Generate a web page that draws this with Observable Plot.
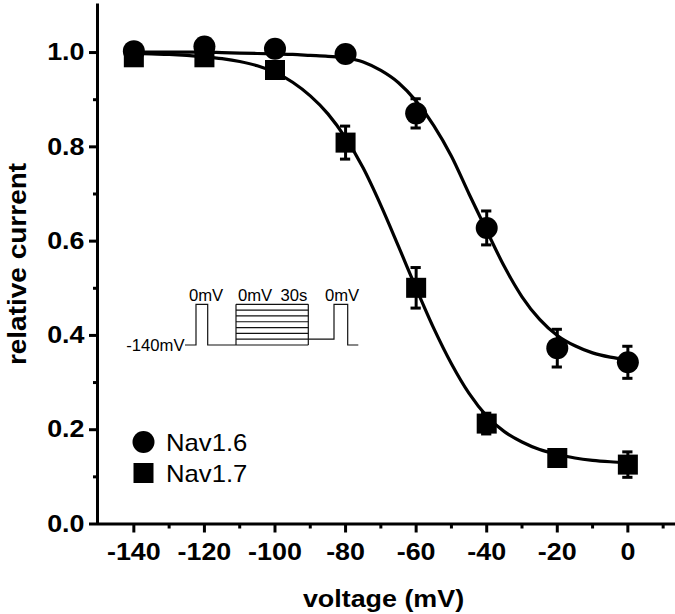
<!DOCTYPE html>
<html><head><meta charset="utf-8">
<script src="https://cdn.jsdelivr.net/npm/d3@7"></script>
<script src="https://cdn.jsdelivr.net/npm/@observablehq/plot@0.6"></script>
<style>
body{margin:0;background:#fff;}
#chart{position:relative;width:675px;height:614px;}
</style></head><body><div id="chart"></div>
<script>
// ---- data ----
const seriesNames = ["Nav1.6", "Nav1.7"];
const voltages = [-140, -120, -100, -80, -60, -40, -20, 0];
const nav16Mean = [1.003, 1.013, 1.008, 0.997, 0.871, 0.628, 0.373, 0.343];
const nav16Err  = [0.004, 0.005, 0.005, 0.006, 0.031, 0.036, 0.040, 0.034];
const nav17Mean = [0.990, 0.990, 0.963, 0.809, 0.501, 0.213, 0.140, 0.126];
const nav17Err  = [0.004, 0.005, 0.008, 0.035, 0.043, 0.022, 0.010, 0.027];
const fitVoltages = [-140,-135,-130,-125,-120,-115,-110,-105,-100,-95,-90,-85,-80,-75,-70,-65,-60,-55,-50,-45,-40,-35,-30,-25,-20,-15,-10,-5,0];
const nav16Fit = [1.001,1.001,1.001,1.001,1.001,1.000,0.999,0.998,0.997,0.996,0.994,0.992,0.989,0.980,0.962,0.936,0.897,0.845,0.780,0.700,0.622,0.546,0.482,0.434,0.400,0.378,0.363,0.354,0.348];
const nav17Fit = [0.998,0.997,0.996,0.994,0.991,0.987,0.981,0.972,0.958,0.937,0.908,0.870,0.819,0.755,0.676,0.589,0.500,0.415,0.340,0.277,0.229,0.196,0.174,0.158,0.148,0.140,0.135,0.132,0.130];
const xTicks = [-140, -120, -100, -80, -60, -40, -20, 0];
const xMinorTicks = [-130, -110, -90, -70, -50, -30, -10, 10];
const yTicks = [0, 0.2, 0.4, 0.6, 0.8, 1.0];
const yMinorTicks = [0.1, 0.3, 0.5, 0.7, 0.9];
const xDomain = [-150.3, 13.5];
const yDomain = [0, 1.103];
const xLabel = "voltage (mV)";
const yLabel = "relative current";
// inset protocol schematic
const protoLevels = [0, -20, -40, -60, -80, -100, -120, -140];
const protoTrace1 = [[0,-140],[11,-140],[11,0],[22.7,0],[22.7,-140],[51,-140]];
const protoBox = [51, 123.3];
const protoTrace2 = [[123.3,-120],[149,-120],[149,0],[162.7,0],[162.7,-140],[173.3,-140]];
const protoLabels = ["-140mV", "0mV", "0mV", "30s", "0mV"];

// ---- tables ----
const pts16 = voltages.map((v, i) => ({v, m: nav16Mean[i], e: nav16Err[i]}));
const pts17 = voltages.map((v, i) => ({v, m: nav17Mean[i], e: nav17Err[i]}));
const fit16 = fitVoltages.map((v, i) => ({v, r: nav16Fit[i]}));
const fit17 = fitVoltages.map((v, i) => ({v, r: nav17Fit[i]}));
const allPts = [...pts16, ...pts17];
const caps = allPts.flatMap(d => [{v: d.v, y: d.m + d.e}, {v: d.v, y: d.m - d.e}]);

const FONT = "'Liberation Sans', Arial, Helvetica, sans-serif";
const chart = Plot.plot({
  width: 675, height: 614,
  marginLeft: 97, marginRight: 0, marginTop: 3.5, marginBottom: 90.5,
  x: {domain: xDomain, label: null},
  y: {domain: yDomain, label: null},
  style: {fontFamily: FONT, background: "white", color: "black", overflow: "visible"},
  marks: [
    Plot.line(fit16, {x: "v", y: "r", curve: "monotone-x", stroke: "black", strokeWidth: 3.2}),
    Plot.line(fit17, {x: "v", y: "r", curve: "monotone-x", stroke: "black", strokeWidth: 3.2}),
    Plot.ruleX(allPts, {x: "v", y1: d => d.m - d.e, y2: d => d.m + d.e, stroke: "black", strokeWidth: 3}),
    Plot.ruleY(caps, {y: "y", x1: d => d.v - 1.45, x2: d => d.v + 1.45, stroke: "black", strokeWidth: 3}),
    Plot.dot(pts17, {x: "v", y: "m", symbol: "square", r: 11.3, fill: "black", stroke: null}),
    Plot.dot(pts16, {x: "v", y: "m", symbol: "circle", r: 11, fill: "black", stroke: null}),
    Plot.ruleY([yDomain[0]], {stroke: "black", strokeWidth: 3}),
    Plot.ruleX([xDomain[0]], {stroke: "black", strokeWidth: 3}),
    Plot.axisX(xTicks, {tickSize: 9, tickPadding: 10, strokeWidth: 3, fontSize: 24, fontWeight: "bold", tickFormat: d => String(d), label: null}),
    Plot.axisX(xMinorTicks, {tickSize: 5, strokeWidth: 3, tickFormat: () => "", label: null}),
    Plot.axisY(yTicks, {tickSize: 8, tickPadding: 5, strokeWidth: 3, fontSize: 24, fontWeight: "bold", tickFormat: d => d.toFixed(1), label: null}),
    Plot.axisY(yMinorTicks, {tickSize: 4, strokeWidth: 3, tickFormat: () => "", label: null}),
    Plot.text([xLabel], {frameAnchor: "bottom", dy: 83, dx: -3, lineAnchor: "bottom", textAnchor: "middle", fontSize: 24, fontWeight: "bold"}),
    Plot.text([yLabel], {frameAnchor: "left", dx: -72, rotate: -90, lineAnchor: "bottom", textAnchor: "middle", fontSize: 25, fontWeight: "bold"})
  ]
});
document.getElementById("chart").appendChild(chart);

const svg = d3.select(chart);
svg.selectAll('g[aria-label$="tick label"]').attr("font-size", 24).attr("font-weight", "bold");

// widen glyphs horizontally (reference lettering is wider than Arial)
function widen(sel, k) {
  sel.each(function () {
    const t = d3.select(this);
    const xs = t.attr("x");
    const tr = t.attr("transform") || "";
    let pre = "";
    if (xs != null && !isNaN(+xs)) { pre = ` translate(${+xs},0)`; t.attr("x", null); }
    t.attr("transform", `${tr}${pre} scale(${k},1)`);
  });
}
widen(svg.selectAll("text"), 1.12);

// ---- legend (inside plot area) ----
const leg = svg.append("g").attr("font-family", FONT).attr("font-size", 24).attr("text-anchor", "start");
const legRows = [{name: seriesNames[0], sym: d3.symbolCircle, cy: 442, size: Math.PI * 11 * 11},
                 {name: seriesNames[1], sym: d3.symbolSquare, cy: 473, size: 400}];
legRows.forEach(row => {
  leg.append("path").attr("d", d3.symbol(row.sym, row.size)()).attr("transform", `translate(143.5,${row.cy})`).attr("fill", "black");
  leg.append("text").attr("x", 166).attr("y", row.cy).attr("dy", "0.36em").text(row.name);
});
widen(leg.selectAll("text"), 1.07);

// ---- inset stimulation protocol ----
const tx = d3.scaleLinear().domain([0, 100]).range([185, 285]);
const ly = d3.scaleLinear().domain([-140, 0]).range([345, 304.3]);
const ins = svg.append("g").attr("fill", "none").attr("stroke", "#111").attr("stroke-width", 1.2);
const lineGen = d3.line().x(d => tx(d[0])).y(d => ly(d[1]));
ins.append("path").attr("d", lineGen(protoTrace1));
ins.append("path").attr("d", lineGen(protoTrace2));
protoLevels.forEach(l => ins.append("line").attr("x1", tx(protoBox[0])).attr("x2", tx(protoBox[1])).attr("y1", ly(l)).attr("y2", ly(l)));
ins.append("line").attr("x1", tx(protoBox[0])).attr("x2", tx(protoBox[0])).attr("y1", ly(0)).attr("y2", ly(-140));
ins.append("line").attr("x1", tx(protoBox[1])).attr("x2", tx(protoBox[1])).attr("y1", ly(0)).attr("y2", ly(-140));
const it = svg.append("g").attr("font-family", FONT).attr("font-size", 16).attr("fill", "black").attr("text-anchor", "start");
it.append("text").attr("x", tx(0) - 0.5).attr("y", ly(-140)).attr("dy", "0.36em").attr("text-anchor", "end").text(protoLabels[0]);
it.append("text").attr("x", tx(protoTrace1[2][0]) - 7).attr("y", ly(0) - 3).text(protoLabels[1]);
it.append("text").attr("x", tx(protoBox[0]) + 2).attr("y", ly(0) - 3).text(protoLabels[2]);
it.append("text").attr("x", tx(protoBox[1]) - 1).attr("y", ly(0) - 3).attr("text-anchor", "end").text(protoLabels[3]);
it.append("text").attr("x", tx(protoTrace2[2][0]) - 9).attr("y", ly(0) - 3).text(protoLabels[4]);
widen(it.selectAll("text"), 1.04);
</script></body></html>
